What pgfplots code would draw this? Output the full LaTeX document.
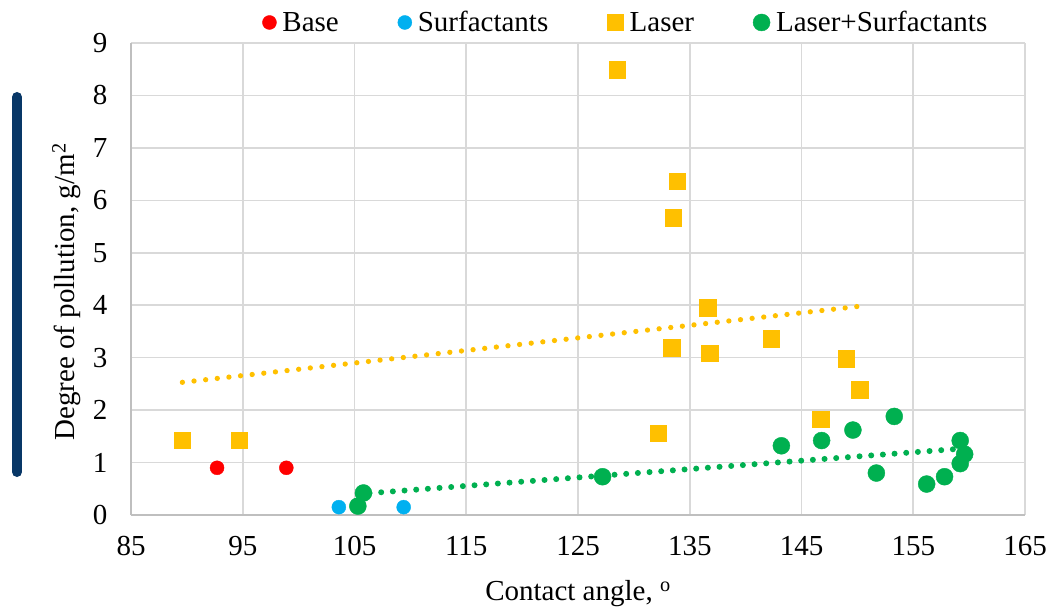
\documentclass[border=0pt]{standalone}
\usepackage{fontspec}
\setmainfont{Liberation Serif}
\usepackage{pgfplots}
\pgfplotsset{compat=1.18}
\definecolor{cbase}{RGB}{255,0,0}
\definecolor{csurf}{RGB}{0,176,240}
\definecolor{claser}{RGB}{255,192,0}
\definecolor{cls}{RGB}{0,176,80}
\definecolor{cgrid}{RGB}{217,217,217}
\definecolor{caxis}{RGB}{191,191,191}
\definecolor{cnavy}{RGB}{8,55,103}
\newcommand{\bigf}{\fontsize{29}{34}\selectfont}
\begin{document}
\begin{tikzpicture}
\useasboundingbox (0,0) rectangle (1051pt,611pt);
\draw[cnavy, line width=10pt, line cap=round] (17pt,611pt-97pt) -- (17pt,611pt-472pt);
\begin{axis}[
  at={(131pt,96pt)}, anchor=south west,
  scale only axis, width=894pt, height=472pt,
  xmin=85, xmax=165, ymin=0, ymax=9,
  xtick={85,95,...,165}, ytick={0,1,...,9},
  major tick length=0pt,
  grid=major,
  major grid style={cgrid, line width=1.6pt},
  axis x line*=bottom, axis y line*=left,
  axis line style={caxis, line width=1.6pt, -},
  /pgf/number format/assume math mode=true,
  tick label style={font=\bigf, black},
  xticklabel style={yshift=-18pt},
  yticklabel style={xshift=-20pt},
  every axis x label/.style={at={(axis description cs:0.5,-0.182)}, anchor=base, font=\bigf},
  every axis y label/.style={at={(axis description cs:-0.0720,0.4725)}, anchor=center, rotate=90, font=\bigf},
  xlabel={Contact angle, \textsuperscript{o}},
  ylabel={Degree of pollution, g/m\textsuperscript{2}},
  legend columns=4,
  legend image code/.code={\draw[#1] plot coordinates {(0pt,9pt)};},
  legend style={at={(axis description cs:0.553,1.0445)}, anchor=center,
    draw=none, fill=white, font=\bigf, inner xsep=58pt, inner ysep=6pt,
    nodes={inner sep=1pt, anchor=base west},
    /tikz/every even column/.append style={column sep=58pt},
    /tikz/every odd column/.append style={column sep=5pt}},
]
\addplot[only marks, mark=*, color=cbase, mark size=7pt]
  coordinates {(92.7,0.90) (98.9,0.90)};
\addlegendentry{Base}
\addplot[only marks, mark=*, color=csurf, mark size=7pt]
  coordinates {(103.6,0.15) (109.4,0.15)};
\addlegendentry{Surfactants}
\addplot[only marks, mark=square*, color=claser, mark size=8.2pt]
  coordinates {(89.6,1.43) (94.7,1.43) (128.5,8.49) (133.9,6.36) (133.5,5.67)
  (136.6,3.95) (133.4,3.19) (136.8,3.09) (142.3,3.36) (149.0,2.98)
  (150.2,2.39) (146.7,1.83) (132.2,1.56)};
\addlegendentry{Laser}
\addplot[only marks, mark=*, color=cls, mark size=8.5pt]
  coordinates {(105.3,0.17) (105.8,0.42) (127.2,0.73) (143.2,1.32) (146.8,1.42)
  (149.6,1.62) (153.3,1.88) (151.7,0.80) (156.2,0.59) (157.8,0.73)
  (159.2,1.42) (159.6,1.16) (159.2,0.98)};
\addlegendentry{Laser+Surfactants}
\addplot[forget plot, claser, line width=5.3pt, line cap=round, dash pattern=on 0pt off 11.7pt]
  coordinates {(89.6,2.53) (150.2,3.98)};
\addplot[forget plot, cls, line width=6pt, line cap=round, dash pattern=on 0pt off 11.7pt]
  coordinates {(105.3,0.40) (159.6,1.27)};
\end{axis}
\end{tikzpicture}
\end{document}
